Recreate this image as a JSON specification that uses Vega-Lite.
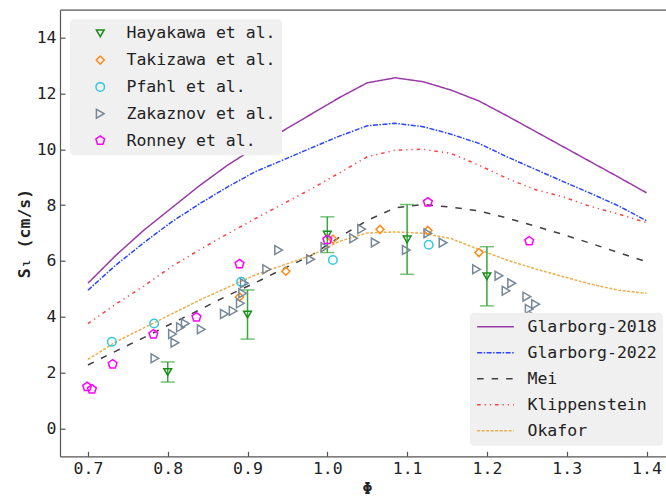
{
  "$schema": "https://vega.github.io/schema/vega-lite/v6.json",
  "width": 606,
  "height": 446.6,
  "autosize": {"type": "none"},
  "padding": {"left": 60, "top": 9.7, "right": 0, "bottom": 41.7},
  "background": "white",
  "config": {
    "view": {"stroke": null},
    "axis": {
      "labelFont": "DejaVu Sans Mono", "labelFontSize": 16.5, "labelColor": "#222",
      "titleFont": "DejaVu Sans Mono", "titleFontSize": 16.5, "titleFontWeight": "bold", "titleColor": "#222",
      "domainColor": "#555", "domainWidth": 1.2, "tickColor": "#555", "tickWidth": 1.2,
      "tickSize": -5, "labelPadding": 9, "grid": false
    },
    "legend": {
      "labelFont": "DejaVu Sans Mono", "labelFontSize": 16.5, "labelColor": "#222", "labelLimit": 400
    }
  },
  "datasets": {
    "lines": [
      {"model": "Glarborg-2018", "phi": 0.7, "v": 5.2}, {"model": "Glarborg-2018", "phi": 0.735, "v": 6.2}, {"model": "Glarborg-2018", "phi": 0.77, "v": 7.1}, {"model": "Glarborg-2018", "phi": 0.805, "v": 7.9}, {"model": "Glarborg-2018", "phi": 0.84, "v": 8.7}, {"model": "Glarborg-2018", "phi": 0.875, "v": 9.43}, {"model": "Glarborg-2018", "phi": 0.91, "v": 10.07}, {"model": "Glarborg-2018", "phi": 0.945, "v": 10.67}, {"model": "Glarborg-2018", "phi": 0.98, "v": 11.26}, {"model": "Glarborg-2018", "phi": 1.015, "v": 11.85}, {"model": "Glarborg-2018", "phi": 1.05, "v": 12.38}, {"model": "Glarborg-2018", "phi": 1.085, "v": 12.56}, {"model": "Glarborg-2018", "phi": 1.12, "v": 12.42}, {"model": "Glarborg-2018", "phi": 1.155, "v": 12.12}, {"model": "Glarborg-2018", "phi": 1.19, "v": 11.73}, {"model": "Glarborg-2018", "phi": 1.225, "v": 11.2}, {"model": "Glarborg-2018", "phi": 1.26, "v": 10.65}, {"model": "Glarborg-2018", "phi": 1.295, "v": 10.1}, {"model": "Glarborg-2018", "phi": 1.33, "v": 9.55}, {"model": "Glarborg-2018", "phi": 1.365, "v": 9.0}, {"model": "Glarborg-2018", "phi": 1.4, "v": 8.44},
      {"model": "Glarborg-2022", "phi": 0.7, "v": 4.95}, {"model": "Glarborg-2022", "phi": 0.735, "v": 5.85}, {"model": "Glarborg-2022", "phi": 0.77, "v": 6.65}, {"model": "Glarborg-2022", "phi": 0.805, "v": 7.4}, {"model": "Glarborg-2022", "phi": 0.84, "v": 8.05}, {"model": "Glarborg-2022", "phi": 0.875, "v": 8.65}, {"model": "Glarborg-2022", "phi": 0.91, "v": 9.2}, {"model": "Glarborg-2022", "phi": 0.945, "v": 9.62}, {"model": "Glarborg-2022", "phi": 0.98, "v": 10.05}, {"model": "Glarborg-2022", "phi": 1.015, "v": 10.47}, {"model": "Glarborg-2022", "phi": 1.05, "v": 10.84}, {"model": "Glarborg-2022", "phi": 1.085, "v": 10.93}, {"model": "Glarborg-2022", "phi": 1.12, "v": 10.81}, {"model": "Glarborg-2022", "phi": 1.155, "v": 10.54}, {"model": "Glarborg-2022", "phi": 1.19, "v": 10.21}, {"model": "Glarborg-2022", "phi": 1.225, "v": 9.73}, {"model": "Glarborg-2022", "phi": 1.26, "v": 9.29}, {"model": "Glarborg-2022", "phi": 1.295, "v": 8.85}, {"model": "Glarborg-2022", "phi": 1.33, "v": 8.42}, {"model": "Glarborg-2022", "phi": 1.365, "v": 7.97}, {"model": "Glarborg-2022", "phi": 1.4, "v": 7.44},
      {"model": "Mei", "phi": 0.7, "v": 2.27}, {"model": "Mei", "phi": 0.735, "v": 2.77}, {"model": "Mei", "phi": 0.77, "v": 3.25}, {"model": "Mei", "phi": 0.805, "v": 3.76}, {"model": "Mei", "phi": 0.84, "v": 4.25}, {"model": "Mei", "phi": 0.875, "v": 4.76}, {"model": "Mei", "phi": 0.91, "v": 5.22}, {"model": "Mei", "phi": 0.945, "v": 5.72}, {"model": "Mei", "phi": 0.98, "v": 6.2}, {"model": "Mei", "phi": 1.015, "v": 6.85}, {"model": "Mei", "phi": 1.05, "v": 7.45}, {"model": "Mei", "phi": 1.085, "v": 7.9}, {"model": "Mei", "phi": 1.12, "v": 8.02}, {"model": "Mei", "phi": 1.155, "v": 7.93}, {"model": "Mei", "phi": 1.19, "v": 7.79}, {"model": "Mei", "phi": 1.225, "v": 7.54}, {"model": "Mei", "phi": 1.26, "v": 7.25}, {"model": "Mei", "phi": 1.295, "v": 6.95}, {"model": "Mei", "phi": 1.33, "v": 6.63}, {"model": "Mei", "phi": 1.365, "v": 6.3}, {"model": "Mei", "phi": 1.4, "v": 5.97},
      {"model": "Klippenstein", "phi": 0.7, "v": 3.75}, {"model": "Klippenstein", "phi": 0.735, "v": 4.45}, {"model": "Klippenstein", "phi": 0.77, "v": 5.1}, {"model": "Klippenstein", "phi": 0.805, "v": 5.8}, {"model": "Klippenstein", "phi": 0.84, "v": 6.4}, {"model": "Klippenstein", "phi": 0.875, "v": 6.97}, {"model": "Klippenstein", "phi": 0.91, "v": 7.52}, {"model": "Klippenstein", "phi": 0.945, "v": 8.05}, {"model": "Klippenstein", "phi": 0.98, "v": 8.58}, {"model": "Klippenstein", "phi": 1.015, "v": 9.15}, {"model": "Klippenstein", "phi": 1.05, "v": 9.73}, {"model": "Klippenstein", "phi": 1.085, "v": 9.97}, {"model": "Klippenstein", "phi": 1.12, "v": 10.0}, {"model": "Klippenstein", "phi": 1.155, "v": 9.85}, {"model": "Klippenstein", "phi": 1.19, "v": 9.43}, {"model": "Klippenstein", "phi": 1.225, "v": 8.96}, {"model": "Klippenstein", "phi": 1.26, "v": 8.56}, {"model": "Klippenstein", "phi": 1.295, "v": 8.3}, {"model": "Klippenstein", "phi": 1.33, "v": 7.95}, {"model": "Klippenstein", "phi": 1.365, "v": 7.68}, {"model": "Klippenstein", "phi": 1.4, "v": 7.37},
      {"model": "Okafor", "phi": 0.7, "v": 2.47}, {"model": "Okafor", "phi": 0.735, "v": 3.1}, {"model": "Okafor", "phi": 0.77, "v": 3.6}, {"model": "Okafor", "phi": 0.805, "v": 4.1}, {"model": "Okafor", "phi": 0.84, "v": 4.6}, {"model": "Okafor", "phi": 0.875, "v": 5.05}, {"model": "Okafor", "phi": 0.91, "v": 5.5}, {"model": "Okafor", "phi": 0.945, "v": 5.85}, {"model": "Okafor", "phi": 0.98, "v": 6.2}, {"model": "Okafor", "phi": 1.015, "v": 6.7}, {"model": "Okafor", "phi": 1.05, "v": 7.0}, {"model": "Okafor", "phi": 1.085, "v": 7.04}, {"model": "Okafor", "phi": 1.12, "v": 6.99}, {"model": "Okafor", "phi": 1.155, "v": 6.8}, {"model": "Okafor", "phi": 1.19, "v": 6.41}, {"model": "Okafor", "phi": 1.225, "v": 6.03}, {"model": "Okafor", "phi": 1.26, "v": 5.72}, {"model": "Okafor", "phi": 1.295, "v": 5.44}, {"model": "Okafor", "phi": 1.33, "v": 5.17}, {"model": "Okafor", "phi": 1.365, "v": 4.95}, {"model": "Okafor", "phi": 1.4, "v": 4.84}
    ],
    "errors": [
      {"phi": 0.8, "lo": 1.66, "hi": 2.38},
      {"phi": 0.9, "lo": 3.2, "hi": 4.96},
      {"phi": 1.0, "lo": 6.3, "hi": 7.58},
      {"phi": 1.1, "lo": 5.52, "hi": 8.02},
      {"phi": 1.2, "lo": 4.39, "hi": 6.51}
    ],
    "points": [
      {"source": "Hayakawa et al.", "phi": 0.8, "v": 2.02}, {"source": "Hayakawa et al.", "phi": 0.9, "v": 4.08}, {"source": "Hayakawa et al.", "phi": 1.0, "v": 6.94}, {"source": "Hayakawa et al.", "phi": 1.1, "v": 6.77}, {"source": "Hayakawa et al.", "phi": 1.2, "v": 5.45},
      {"source": "Takizawa et al.", "phi": 0.89, "v": 4.71}, {"source": "Takizawa et al.", "phi": 0.948, "v": 5.63}, {"source": "Takizawa et al.", "phi": 1.007, "v": 6.78}, {"source": "Takizawa et al.", "phi": 1.066, "v": 7.13}, {"source": "Takizawa et al.", "phi": 1.126, "v": 7.09}, {"source": "Takizawa et al.", "phi": 1.19, "v": 6.3},
      {"source": "Pfahl et al.", "phi": 0.73, "v": 3.1}, {"source": "Pfahl et al.", "phi": 0.783, "v": 3.76}, {"source": "Pfahl et al.", "phi": 0.892, "v": 5.25}, {"source": "Pfahl et al.", "phi": 1.007, "v": 6.03}, {"source": "Pfahl et al.", "phi": 1.127, "v": 6.58},
      {"source": "Zakaznov et al.", "phi": 0.784, "v": 2.51}, {"source": "Zakaznov et al.", "phi": 0.809, "v": 3.07}, {"source": "Zakaznov et al.", "phi": 0.806, "v": 3.38}, {"source": "Zakaznov et al.", "phi": 0.816, "v": 3.62}, {"source": "Zakaznov et al.", "phi": 0.822, "v": 3.76}, {"source": "Zakaznov et al.", "phi": 0.842, "v": 3.55}, {"source": "Zakaznov et al.", "phi": 0.871, "v": 4.1}, {"source": "Zakaznov et al.", "phi": 0.882, "v": 4.21}, {"source": "Zakaznov et al.", "phi": 0.891, "v": 4.48}, {"source": "Zakaznov et al.", "phi": 0.894, "v": 4.84}, {"source": "Zakaznov et al.", "phi": 0.896, "v": 5.2}, {"source": "Zakaznov et al.", "phi": 0.924, "v": 5.7}, {"source": "Zakaznov et al.", "phi": 0.939, "v": 6.39}, {"source": "Zakaznov et al.", "phi": 0.979, "v": 6.06}, {"source": "Zakaznov et al.", "phi": 0.997, "v": 6.49}, {"source": "Zakaznov et al.", "phi": 1.033, "v": 6.81}, {"source": "Zakaznov et al.", "phi": 1.043, "v": 7.14}, {"source": "Zakaznov et al.", "phi": 1.06, "v": 6.66}, {"source": "Zakaznov et al.", "phi": 1.099, "v": 6.39}, {"source": "Zakaznov et al.", "phi": 1.126, "v": 6.99}, {"source": "Zakaznov et al.", "phi": 1.145, "v": 6.65}, {"source": "Zakaznov et al.", "phi": 1.187, "v": 5.7}, {"source": "Zakaznov et al.", "phi": 1.215, "v": 5.47}, {"source": "Zakaznov et al.", "phi": 1.231, "v": 5.2}, {"source": "Zakaznov et al.", "phi": 1.224, "v": 4.93}, {"source": "Zakaznov et al.", "phi": 1.25, "v": 4.72}, {"source": "Zakaznov et al.", "phi": 1.261, "v": 4.45}, {"source": "Zakaznov et al.", "phi": 1.253, "v": 4.28}, {"source": "Zakaznov et al.", "phi": 1.259, "v": 4.0},
      {"source": "Ronney et al.", "phi": 0.699, "v": 1.49}, {"source": "Ronney et al.", "phi": 0.705, "v": 1.4}, {"source": "Ronney et al.", "phi": 0.731, "v": 2.3}, {"source": "Ronney et al.", "phi": 0.782, "v": 3.37}, {"source": "Ronney et al.", "phi": 0.836, "v": 3.98}, {"source": "Ronney et al.", "phi": 0.89, "v": 5.89}, {"source": "Ronney et al.", "phi": 1.0, "v": 6.76}, {"source": "Ronney et al.", "phi": 1.126, "v": 8.1}, {"source": "Ronney et al.", "phi": 1.253, "v": 6.71}
    ]
  },
  "resolve": {
    "scale": {"color": "independent", "shape": "independent", "size": "independent", "strokeDash": "independent"},
    "axis": {"x": "independent"}
  },
  "layer": [
    {
      "data": {"name": "lines"},
      "mark": {"type": "line", "strokeWidth": 1.5},
      "encoding": {
        "x": {"field": "phi", "type": "quantitative", "scale": {"domain": [0.665, 1.4244], "nice": false, "zero": false},
              "axis": {"orient": "top", "labels": false, "ticks": false, "title": null, "domain": true}},
        "y": {"field": "v", "type": "quantitative", "scale": {"domain": [-1, 15], "nice": false, "zero": false},
              "axis": {"title": "Sₗ (cm/s)", "values": [0, 2, 4, 6, 8, 10, 12, 14], "titlePadding": 4}},
        "color": {"field": "model", "type": "nominal",
                  "scale": {"domain": ["Glarborg-2018", "Glarborg-2022", "Mei", "Klippenstein", "Okafor"],
                            "range": ["#9a3aa8", "#2a44ff", "#404040", "#ff4040", "#e8b050"]},
                  "legend": {"title": null, "orient": "none", "legendX": 410, "legendY": 303, "symbolType": "stroke", "symbolSize": 1347, "symbolStrokeWidth": 1.5, "clipHeight": 16, "rowPadding": 9, "labelOffset": 12.5, "padding": 6, "fillColor": "#f0f0f0", "cornerRadius": 4}},
        "strokeDash": {"field": "model", "type": "nominal",
                       "scale": {"domain": ["Glarborg-2018", "Glarborg-2022", "Mei", "Klippenstein", "Okafor"],
                                 "range": [[1, 0], [5, 1.5, 1.5, 1.5], [6.5, 8], [3.5, 4, 1.2, 4, 1.2, 4], [3, 1.5]]},
                       "legend": {"title": null, "orient": "none", "legendX": 410, "legendY": 303, "symbolType": "stroke", "symbolSize": 1347, "symbolStrokeWidth": 1.5, "clipHeight": 16, "rowPadding": 9, "labelOffset": 12.5, "padding": 6, "fillColor": "#f0f0f0", "cornerRadius": 4}}
      }
    },
    {
      "data": {"name": "errors"},
      "mark": {"type": "errorbar", "ticks": true, "size": 14, "thickness": 1.5, "color": "#3aa63a"},
      "encoding": {
        "x": {"field": "phi", "type": "quantitative", "axis": null},
        "y": {"field": "lo", "type": "quantitative", "axis": {"title": "Sₗ (cm/s)"}},
        "y2": {"field": "hi"}
      }
    },
    {
      "data": {"name": "points"},
      "mark": {"type": "point", "filled": false, "strokeWidth": 1.5, "opacity": 1},
      "encoding": {
        "x": {"field": "phi", "type": "quantitative", "scale": {"domain": [0.665, 1.4244], "nice": false, "zero": false},
              "axis": {"orient": "bottom", "title": "Φ", "values": [0.7, 0.8, 0.9, 1.0, 1.1, 1.2, 1.3, 1.4], "format": ".1f", "titleX": 307, "titlePadding": 4}},
        "y": {"field": "v", "type": "quantitative", "axis": {"title": "Sₗ (cm/s)"}},
        "color": {"field": "source", "type": "nominal",
                  "scale": {"domain": ["Hayakawa et al.", "Takizawa et al.", "Pfahl et al.", "Zakaznov et al.", "Ronney et al."],
                            "range": ["#1a8c1a", "#ff8c1a", "#33c8dc", "#778899", "#ff00ff"]},
                  "legend": {"title": null, "orient": "none", "legendX": 10, "legendY": 9.6, "symbolSize": 64, "symbolStrokeWidth": 1.5, "clipHeight": 16, "rowPadding": 9.8, "symbolOffset": 16, "labelOffset": 18, "padding": 6, "fillColor": "#f0f0f0", "cornerRadius": 4}},
        "shape": {"field": "source", "type": "nominal",
                  "scale": {"domain": ["Hayakawa et al.", "Takizawa et al.", "Pfahl et al.", "Zakaznov et al.", "Ronney et al."],
                            "range": ["triangle-down", "diamond", "circle", "triangle-right", "M0,-1L0.951,-0.309L0.588,0.809L-0.588,0.809L-0.951,-0.309Z"]},
                  "legend": {"title": null, "orient": "none", "legendX": 10, "legendY": 9.6, "symbolSize": 64, "symbolStrokeWidth": 1.5, "clipHeight": 16, "rowPadding": 9.8, "symbolOffset": 16, "labelOffset": 18, "padding": 6, "fillColor": "#f0f0f0", "cornerRadius": 4}},
        "size": {"field": "source", "type": "nominal", "legend": null,
                 "scale": {"domain": ["Hayakawa et al.", "Takizawa et al.", "Pfahl et al.", "Zakaznov et al.", "Ronney et al."],
                           "range": [60, 85, 50, 64, 55]}}
      }
    }
  ]
}
